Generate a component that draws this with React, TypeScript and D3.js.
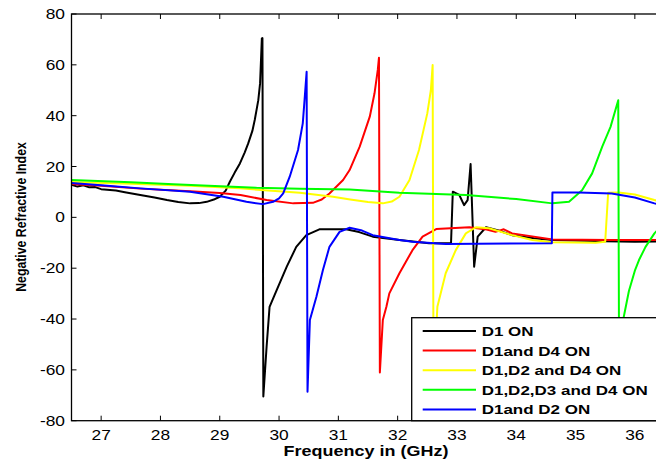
import * as d3 from 'd3';

const width = 656;
const height = 459;
const plot = { left: 71.5, right: 664.5, top: 14, bottom: 420.7 };

// values: [frequency GHz, index]
const d1On: [number, number][] = [
  [26.5, 12.8], [26.6, 12.1], [26.7, 12.6], [26.8, 11.8], [26.9, 11.9], [27.0, 11.1],
  [27.1, 10.9], [27.25, 10.6], [27.4, 9.9], [27.66, 8.8], [27.9, 7.8], [28.11, 6.8],
  [28.3, 6.0], [28.5, 5.5], [28.65, 5.6], [28.78, 6.1], [28.9, 7.0], [29.0, 8.1],
  [29.1, 10.5], [29.17, 14], [29.25, 17.5], [29.34, 21.2], [29.42, 25.5], [29.48, 29.1],
  [29.55, 34], [29.59, 38.3], [29.65, 46.1], [29.68, 52.7], [29.71, 70.4], [29.72, 70.5],
  [29.735, -70.5], [29.79, -50.9], [29.84, -35.2], [29.96, -28.6], [30.13, -19.4],
  [30.29, -11.6], [30.46, -7.0], [30.68, -4.7], [31.13, -4.7], [31.35, -5.8], [31.58, -7.6],
  [32.03, -8.9], [32.53, -10.2], [32.9, -10.2], [32.93, 10.1], [33.04, 8.8], [33.12, 4.8],
  [33.18, 6.8], [33.23, 21.0], [33.29, -19.4], [33.35, -7.6], [33.49, -3.9], [33.7, -5.2],
  [33.93, -7.0], [34.3, -8.2], [34.61, -8.9], [35.5, -9.4], [36.0, -9.6], [36.5, -9.4],
];

const d1d4On: [number, number][] = [
  [26.5, 13.1], [27.0, 12.4], [27.66, 11.3], [28.5, 10.3], [29.0, 9.6], [29.35, 8.8],
  [29.79, 6.8], [30.24, 5.5], [30.57, 5.7], [30.72, 7.0], [30.85, 9.4], [31.08, 14.7],
  [31.19, 18.6], [31.36, 27.8], [31.53, 39.6], [31.61, 48.8], [31.665, 58], [31.685, 62.8],
  [31.7, -61], [31.75, -40.4], [31.81, -35.2], [31.86, -29.9], [32.03, -22.0], [32.25, -12.9],
  [32.42, -7.6], [32.65, -4.6], [33.21, -3.9], [33.5, -4.8], [33.65, -5.7], [33.79, -4.7],
  [33.93, -6.3], [34.61, -8.7], [35.61, -8.9], [36.5, -8.9],
];

const d1d2d4On: [number, number][] = [
  [26.5, 13.9], [27.5, 13.2], [28.5, 12.4], [29.34, 11.4], [30.35, 9.7], [30.91, 8.1],
  [31.2, 7.0], [31.5, 6.0], [31.75, 5.5], [31.9, 6.2], [32.03, 8.1], [32.2, 14.7],
  [32.36, 26.5], [32.5, 40.9], [32.56, 50], [32.59, 59.9], [32.605, -65], [32.67, -35.2],
  [32.81, -22], [32.98, -12.9], [33.15, -6.3], [33.32, -3.9], [33.54, -4.3], [33.93, -7.0],
  [34.27, -8.9], [34.61, -9.8], [35.34, -10.0], [35.5, -9.6], [35.55, 9.7], [35.73, 9.8],
  [36.0, 9.0], [36.33, 6.8], [36.5, 6.0],
];

const d1d2d3d4On: [number, number][] = [
  [26.5, 14.7], [27.5, 13.8], [28.22, 13.0], [29.62, 11.6], [30.35, 11.3], [31.19, 11.0],
  [32.03, 9.7], [33.15, 8.8], [34.0, 7.2], [34.61, 5.5], [34.89, 6.1], [35.11, 10.7],
  [35.28, 17.3], [35.45, 27.8], [35.59, 35.6], [35.72, 46.1], [35.735, -65], [35.78, -45],
  [35.81, -39.5], [35.9, -29], [36.0, -21], [36.07, -16.8], [36.18, -11.6], [36.33, -6.3],
  [36.5, -2],
];

const d1d2On: [number, number][] = [
  [26.5, 13.5], [27.0, 12.6], [27.66, 11.4], [28.5, 10.1], [29.06, 8.1], [29.45, 6.1],
  [29.73, 5.2], [29.9, 6.1], [30.0, 7.5], [30.07, 9.4], [30.18, 16.0], [30.32, 26.5],
  [30.4, 37.0], [30.43, 46.1], [30.465, 57.3], [30.48, -68.6], [30.52, -40.4], [30.63, -31.2],
  [30.74, -20.7], [30.85, -11.6], [31.02, -5.7], [31.19, -4.1], [31.4, -5.2], [31.58, -7.0],
  [32.03, -8.9], [32.25, -9.6], [32.81, -10.5], [34.6, -10.2], [34.61, 9.8], [35.05, 9.8],
  [35.61, 9.4], [36.0, 7.8], [36.33, 5.5], [36.5, 4.6],
];

const seriesNames = ['D1 ON', 'D1and D4 ON', 'D1,D2 and D4 ON', 'D1,D2,D3 and D4 ON', 'D1and D2 ON'];
const seriesData = [d1On, d1d4On, d1d2d4On, d1d2d3d4On, d1d2On];
const seriesColors = ['#000000', '#ff0000', '#ffff00', '#00ff00', '#0000ff'];

const xTicks = [27, 28, 29, 30, 31, 32, 33, 34, 35, 36];
const yTicks = [-80, -60, -40, -20, 0, 20, 40, 60, 80];

const font = 'Liberation Sans, Arial, sans-serif';
const stretch = 1.24;

export default function App() {
  const x = d3.scaleLinear().domain([26.5, 36.5]).range([plot.left, plot.right]);
  const y = d3.scaleLinear().domain([-80, 80]).range([plot.bottom, plot.top]);
  const line = d3
    .line<[number, number]>()
    .x((d) => x(d[0]))
    .y((d) => y(d[1]));

  const lg = { x: 411.7, y: 317.7, row: 19.6 };

  return (
    <svg
      width={width}
      height={height}
      style={{ position: 'absolute', left: 0, top: 0, background: '#fff' }}
      fontFamily={font}
    >
      <defs>
        <clipPath id="plotArea">
          <rect x={plot.left} y={plot.top} width={plot.right - plot.left} height={plot.bottom - plot.top} />
        </clipPath>
      </defs>
      <rect width={width} height={height} fill="#fff" />

      <g clipPath="url(#plotArea)">
        {seriesData.map((s, i) => (
          <path key={i} d={line(s) ?? ''} fill="none" stroke={seriesColors[i]} strokeWidth={2} strokeLinejoin="round" />
        ))}
      </g>

      {/* ticks, inward, MATLAB style */}
      <g stroke="#000" strokeWidth={1}>
        {xTicks.map((t) => (
          <g key={t}>
            <line x1={x(t)} x2={x(t)} y1={plot.bottom} y2={plot.bottom - 5} />
            <line x1={x(t)} x2={x(t)} y1={plot.top} y2={plot.top + 5} />
          </g>
        ))}
        {yTicks.map((t) => (
          <line key={t} x1={plot.left} x2={plot.left + 5} y1={y(t)} y2={y(t)} />
        ))}
      </g>
      <rect
        x={plot.left}
        y={plot.top}
        width={plot.right - plot.left}
        height={plot.bottom - plot.top}
        fill="none"
        stroke="#000"
        strokeWidth={1.3}
      />

      {xTicks.map((t) => (
        <text
          key={t}
          transform={`translate(${x(t)},${440}) scale(${stretch},1)`}
          textAnchor="middle"
          fontSize={14}
          fill="#000"
        >
          {t}
        </text>
      ))}
      {yTicks.map((t) => (
        <text
          key={t}
          transform={`translate(${65},${y(t) + 5}) scale(${stretch},1)`}
          textAnchor="end"
          fontSize={14}
          fill="#000"
        >
          {t}
        </text>
      ))}

      <text
        transform={`translate(366,456) scale(${stretch},1)`}
        textAnchor="middle"
        fontSize={14.5}
        fontWeight="bold"
      >
        Frequency in (GHz)
      </text>
      <text
        transform={`translate(26,217) scale(${stretch},1) rotate(-90)`}
        textAnchor="middle"
        fontSize={12.3}
        fontWeight="bold"
      >
        Negative Refractive Index
      </text>

      {/* legend */}
      <rect x={lg.x} y={lg.y} width={width} height={plot.bottom - lg.y} fill="#fff" stroke="#000" strokeWidth={1.3} />
      {seriesNames.map((name, i) => {
        const cy = 331 + i * lg.row;
        return (
          <g key={name}>
            <line x1={422.7} x2={476} y1={cy} y2={cy} stroke={seriesColors[i]} strokeWidth={2} />
            <text
              transform={`translate(481.7,${cy + 5}) scale(${stretch},1)`}
              fontSize={13.7}
              fontWeight="bold"
            >
              {name}
            </text>
          </g>
        );
      })}
    </svg>
  );
}
